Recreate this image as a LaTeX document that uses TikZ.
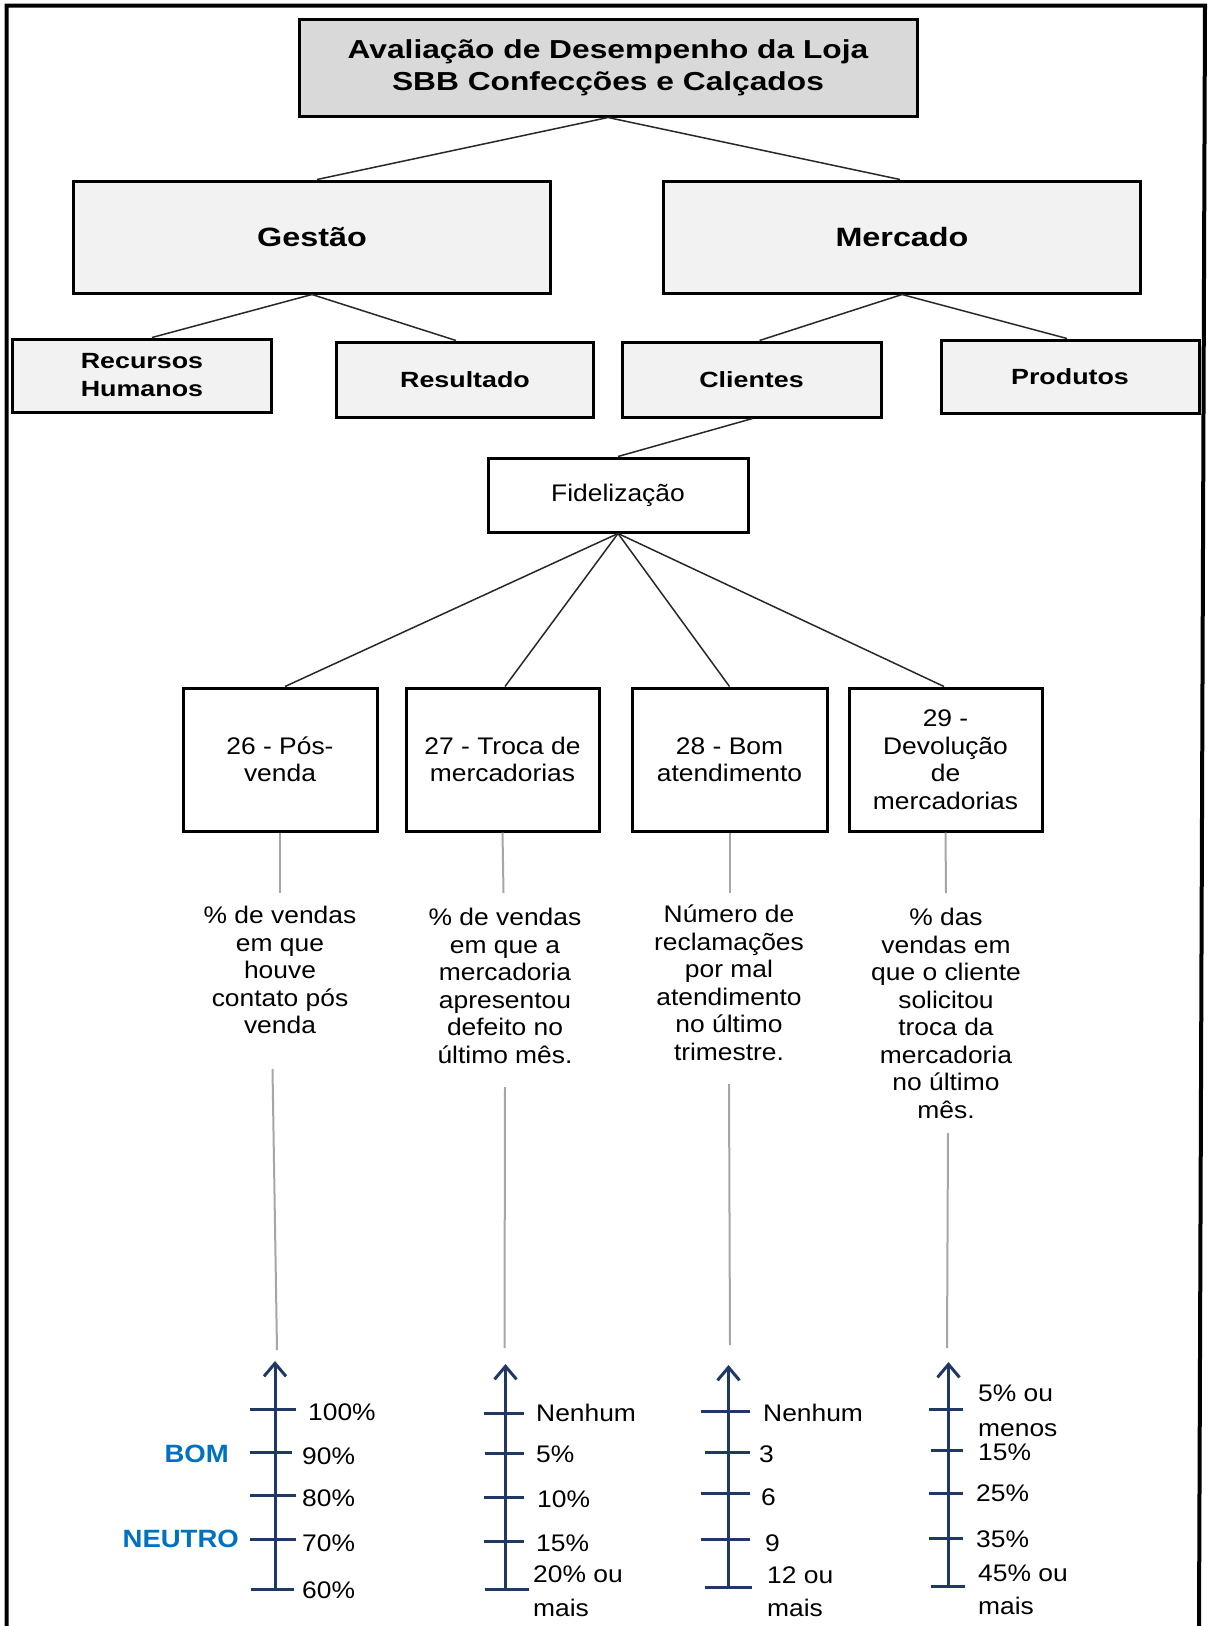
\documentclass[tikz,border=0pt]{standalone}
\usepackage{fontspec}
\usetikzlibrary{arrows.meta}
\newfontfamily\rgfont[FakeStretch=1.1]{Liberation Sans}
\newfontfamily\bdfont[FakeStretch=1.22]{Liberation Sans}
\definecolor{hdrgray}{RGB}{217,217,217}
\definecolor{boxgray}{RGB}{242,242,242}
\definecolor{guide}{RGB}{166,166,166}
\definecolor{axisblue}{RGB}{31,56,100}
\definecolor{levelblue}{RGB}{0,112,192}
\definecolor{linkgray}{RGB}{40,40,40}
\begin{document}
\begin{tikzpicture}[x=1pt,y=-1pt,
  box/.style={draw=black, line width=3pt, rectangle, inner sep=0pt, align=center, text=black},
  bighdr/.style={box, font=\bdfont\bfseries\fontsize{26.5}{32}\selectfont},
  smallhdr/.style={box, fill=boxgray, minimum height=74pt,
    font=\bdfont\bfseries\fontsize{22}{28}\selectfont},
  plainbox/.style={box, fill=white, font=\rgfont\fontsize{24}{27.5}\selectfont},
  desc/.style={align=center, inner sep=0pt, text=black,
    font=\rgfont\fontsize{24}{27.5}\selectfont},
  link/.style={draw=linkgray, line width=1.5pt},
  guideline/.style={draw=guide, line width=2pt},
  axisline/.style={draw=axisblue, line width=3pt},
  ticklabel/.style={anchor=west, inner sep=0pt, text height=17pt, text depth=0pt,
    text=black, font=\rgfont\fontsize{24}{27.5}\selectfont},
  level/.style={anchor=east, inner sep=0pt, text height=18pt, text depth=0pt,
    text=levelblue, font=\rgfont\bfseries\fontsize{25}{30}\selectfont}
]
\useasboundingbox (0,0) rectangle (1208,1626);
\fill[white] (0,0) rectangle (1208,1626);

% outer frame (open at the bottom)
\draw[line width=4pt] (6.5,1626) -- (6.5,5.5) -- (1205,5.5) -- (1199,1626);

% hierarchy boxes
\node[bighdr, fill=hdrgray, minimum width=618pt, minimum height=97pt,
  font=\bdfont\bfseries\fontsize{26}{32}\selectfont] (top) at (608,67.5)
  {Avaliação de Desempenho da Loja\\SBB Confecções e Calçados};
\node[bighdr, fill=boxgray, minimum width=477pt, minimum height=112pt] (ges) at (312,237) {Gestão};
\node[bighdr, fill=boxgray, minimum width=477pt, minimum height=112pt] (mer) at (902,237) {Mercado};

\node[smallhdr, minimum width=259pt, minimum height=73pt] (rh) at (142,375.5) {Recursos\\Humanos};
\node[smallhdr, minimum width=257pt, minimum height=75pt] (res) at (465,379.5) {Resultado};
\node[smallhdr, minimum width=259pt, minimum height=75pt] (cli) at (751.5,379.5) {Clientes};
\node[smallhdr, minimum width=258pt, minimum height=73pt] (pro) at (1070,376.5) {Produtos};

\node[plainbox, minimum width=260pt, minimum height=74pt] (fid) at (618,495) {Fidelização};

\node[plainbox, minimum width=194pt, minimum height=143pt] (b26) at (280,759.5) {26 - Pós-\\venda};
\node[plainbox, minimum width=193pt, minimum height=143pt] (b27) at (502.5,759.5) {27 - Troca de\\mercadorias};
\node[plainbox, minimum width=195pt, minimum height=143pt] (b28) at (729.5,759.5) {28 - Bom\\atendimento};
\node[plainbox, minimum width=193pt, minimum height=143pt] (b29) at (945.5,759.5) {29 -\\Devolução\\de\\mercadorias};

% connectors between levels
\draw[link] (top.south) -- ([xshift=5pt]ges.north);
\draw[link] (top.south) -- ([xshift=-2pt]mer.north);
\draw[link] (ges.south) -- ([xshift=10pt]rh.north);
\draw[link] (ges.south) -- ([xshift=-9pt]res.north);
\draw[link] (mer.south) -- ([xshift=8pt]cli.north);
\draw[link] (mer.south) -- ([xshift=-3pt]pro.north);
\draw[link] ([xshift=1pt]cli.south) -- (fid.north);
\draw[link] (fid.south) -- ([xshift=5pt]b26.north);
\draw[link] (fid.south) -- ([xshift=2.5pt]b27.north);
\draw[link] (fid.south) -- (b28.north);
\draw[link] (fid.south) -- ([xshift=-1.5pt]b29.north);

% indicator descriptions
\node[desc] (d1) at (280,970) {\% de vendas\\em que\\houve\\contato pós\\venda};
\node[desc] (d2) at (505,986) {\% de vendas\\em que a\\mercadoria\\apresentou\\defeito no\\último mês.};
\node[desc] (d3) at (729,983) {Número de\\reclamações\\por mal\\atendimento\\no último\\trimestre.};
\node[desc] (d4) at (946,1013.5) {\% das\\vendas em\\que o cliente\\solicitou\\troca da\\mercadoria\\no último\\mês.};

% grey guide lines
\coordinate (g1a) at (280,893);   \coordinate (g1b) at (272.5,1069); \coordinate (g1c) at (277,1350);
\coordinate (g2a) at (503.5,893); \coordinate (g2b) at (505,1087);   \coordinate (g2c) at (504.5,1348);
\coordinate (g3a) at (729.5,893); \coordinate (g3b) at (729,1084);   \coordinate (g3c) at (730,1345);
\coordinate (g4a) at (946,893);   \coordinate (g4b) at (948,1133);   \coordinate (g4c) at (947,1348);
\foreach \i/\b in {1/b26,2/b27,3/b28,4/b29}{
  \draw[guideline] (\b.south) -- (g\i a);
  \draw[guideline] (g\i b) -- (g\i c);
}

% measurement scales
\coordinate (s1t) at (275,1361);   \coordinate (s1b) at (275,1589);
\coordinate (s2t) at (505.5,1364); \coordinate (s2b) at (505.5,1589);
\coordinate (s3t) at (728.5,1365); \coordinate (s3b) at (728.5,1587);
\coordinate (s4t) at (948.5,1362); \coordinate (s4b) at (948.5,1586);
\foreach \i in {1,2,3,4}{
  \draw[axisline, -{Straight Barb[length=13pt,width=22pt,line width=3pt]}] (s\i b) -- (s\i t);
}
% ticks: x, left reach, right reach, y
\foreach \x/\l/\r/\y in {
  275/25/21/1409, 275/25/17/1452, 275/25/21/1495, 275/25/21/1539, 275/24/19/1589,
  505.5/22/18/1413, 505.5/21/18/1453, 505.5/22/18/1497, 505.5/22/18/1541, 505.5/21/23/1589,
  728.5/28/21/1411, 728.5/24/21/1452, 728.5/28/21/1493, 728.5/28/21/1539, 728.5/24/23/1587,
  948.5/20/14/1409, 948.5/18/14/1450, 948.5/20/14/1493, 948.5/20/14/1538, 948.5/18/16/1586}{
  \draw[axisline] (\x-\l,\y) -- (\x+\r,\y);
}

% scale labels
\node[ticklabel] (l1a) at (308,1412) {100\%};
\node[ticklabel] (l1b) at (302,1456) {90\%};
\node[ticklabel] (l1c) at (302,1498) {80\%};
\node[ticklabel] (l1d) at (302,1543) {70\%};
\node[ticklabel] (l1e) at (302,1590) {60\%};
\node[level] (bom) at (229,1453) {BOM};
\node[level] (neutro) at (239,1538) {NEUTRO};

\node[ticklabel] (l2a) at (536,1413) {Nenhum};
\node[ticklabel] (l2b) at (536,1454) {5\%};
\node[ticklabel] (l2c) at (537,1499) {10\%};
\node[ticklabel] (l2d) at (536,1543) {15\%};
\node[ticklabel] (l2e) at (533,1574) {20\% ou};
\node[ticklabel] (l2f) at (533,1608) {mais};

\node[ticklabel] (l3a) at (763,1413) {Nenhum};
\node[ticklabel] (l3b) at (759,1454) {3};
\node[ticklabel] (l3c) at (761,1497) {6};
\node[ticklabel] (l3d) at (765,1543) {9};
\node[ticklabel] (l3e) at (767,1575) {12 ou};
\node[ticklabel] (l3f) at (767,1608) {mais};

\node[ticklabel] (l4a) at (978,1393) {5\% ou};
\node[ticklabel] (l4b) at (978,1428) {menos};
\node[ticklabel] (l4c) at (978,1452) {15\%};
\node[ticklabel] (l4d) at (976,1493) {25\%};
\node[ticklabel] (l4e) at (976,1539) {35\%};
\node[ticklabel] (l4f) at (978,1573) {45\% ou};
\node[ticklabel] (l4g) at (978,1606) {mais};
\end{tikzpicture}
\end{document}
